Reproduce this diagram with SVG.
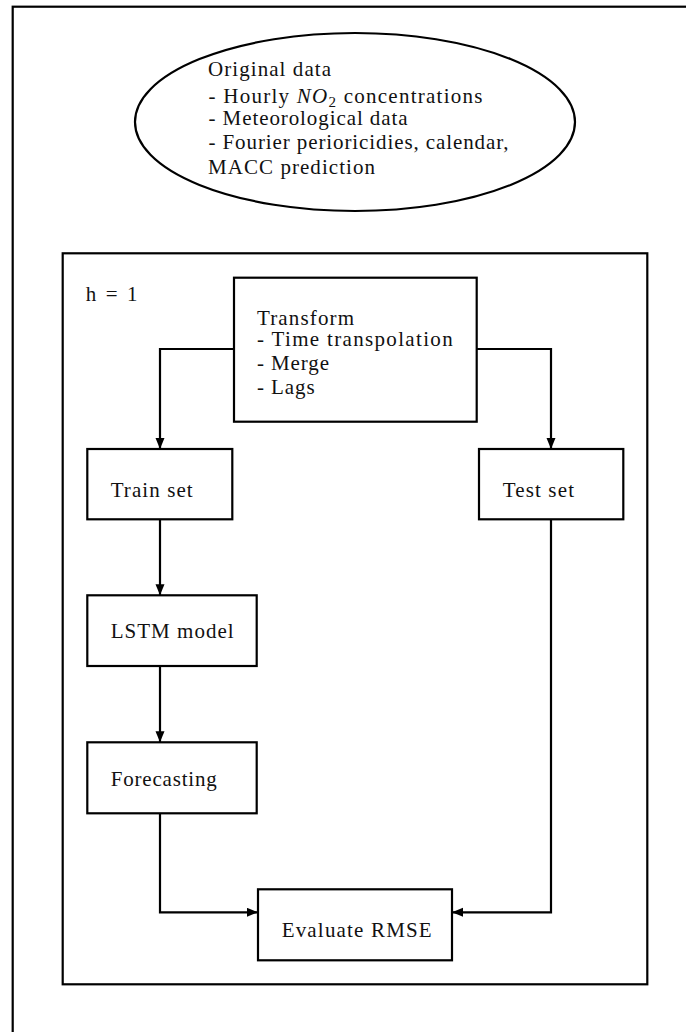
<svg xmlns="http://www.w3.org/2000/svg" width="686" height="1032" viewBox="0 0 686 1032">
<style>
.frame{fill:none;stroke:#000;stroke-width:2.2}
.node{fill:#fff;stroke:#000;stroke-width:2.2}
.conn{fill:none;stroke:#000;stroke-width:2.2;stroke-linejoin:miter}
text{font-family:"Liberation Serif","Times New Roman",serif;font-size:21px;fill:#111}
</style>
<defs>
<marker id="ah" markerUnits="userSpaceOnUse" markerWidth="12" markerHeight="10" refX="11" refY="4.5" orient="auto">
<path d="M0,0 L11,4.5 L0,9 Z" fill="#000"/>
</marker>
</defs>
<rect width="686" height="1032" fill="#fff"/>
<rect class="frame" x="12.7" y="6.7" width="700" height="1060"/>
<g id="original-data">
<ellipse class="node" cx="355" cy="122" rx="220" ry="89"/>
<text x="208" y="76" textLength="123" lengthAdjust="spacing">Original data</text>
<text x="208.5" y="103" textLength="274" lengthAdjust="spacing">- Hourly <tspan font-style="italic">NO</tspan><tspan font-size="15" dy="4">2</tspan><tspan dy="-4"> concentrations</tspan></text>
<text x="208.5" y="125" textLength="199" lengthAdjust="spacing">- Meteorological data</text>
<text x="208.5" y="149" textLength="300" lengthAdjust="spacing">- Fourier perioricidies, calendar,</text>
<text x="208" y="174" textLength="167" lengthAdjust="spacing">MACC prediction</text>
</g>
<g id="h1-frame">
<rect class="frame" x="62.7" y="253.3" width="584.6" height="731"/>
<text x="85.7" y="301" textLength="51.7" lengthAdjust="spacing">h = 1</text>
</g>
<g id="transform">
<rect class="node" x="234" y="277.7" width="242.7" height="144"/>
<text x="257" y="325" textLength="97" lengthAdjust="spacing">Transform</text>
<text x="257" y="346" textLength="195.7" lengthAdjust="spacing">- Time transpolation</text>
<text x="257" y="370" textLength="72" lengthAdjust="spacing">- Merge</text>
<text x="257" y="394" textLength="57.7" lengthAdjust="spacing">- Lags</text>
</g>
<g id="train-set">
<rect class="node" x="87.3" y="449" width="145" height="70.3"/>
<text x="110.7" y="497" textLength="82" lengthAdjust="spacing">Train set</text>
</g>
<g id="test-set">
<rect class="node" x="479" y="449" width="144.3" height="70.3"/>
<text x="502.7" y="497" textLength="71.3" lengthAdjust="spacing">Test set</text>
</g>
<g id="lstm-model">
<rect class="node" x="87.3" y="595.3" width="169.4" height="70.7"/>
<text x="110.7" y="638" textLength="123" lengthAdjust="spacing">LSTM model</text>
</g>
<g id="forecasting">
<rect class="node" x="87.3" y="742.3" width="169.4" height="71"/>
<text x="110.7" y="785.7" textLength="106" lengthAdjust="spacing">Forecasting</text>
</g>
<g id="evaluate-rmse">
<rect class="node" x="258" y="889.3" width="194" height="71"/>
<text x="281.7" y="937.3" textLength="150" lengthAdjust="spacing">Evaluate RMSE</text>
</g>
<g id="connectors">
<path class="conn" d="M234,349 H160 V449" marker-end="url(#ah)"/>
<path class="conn" d="M476.7,349 H551 V449" marker-end="url(#ah)"/>
<path class="conn" d="M160,519.3 V595.3" marker-end="url(#ah)"/>
<path class="conn" d="M160,666 V742.3" marker-end="url(#ah)"/>
<path class="conn" d="M160,813.3 V912.3 H258" marker-end="url(#ah)"/>
<path class="conn" d="M551,519.3 V912.3 H452" marker-end="url(#ah)"/>
</g>
</svg>
